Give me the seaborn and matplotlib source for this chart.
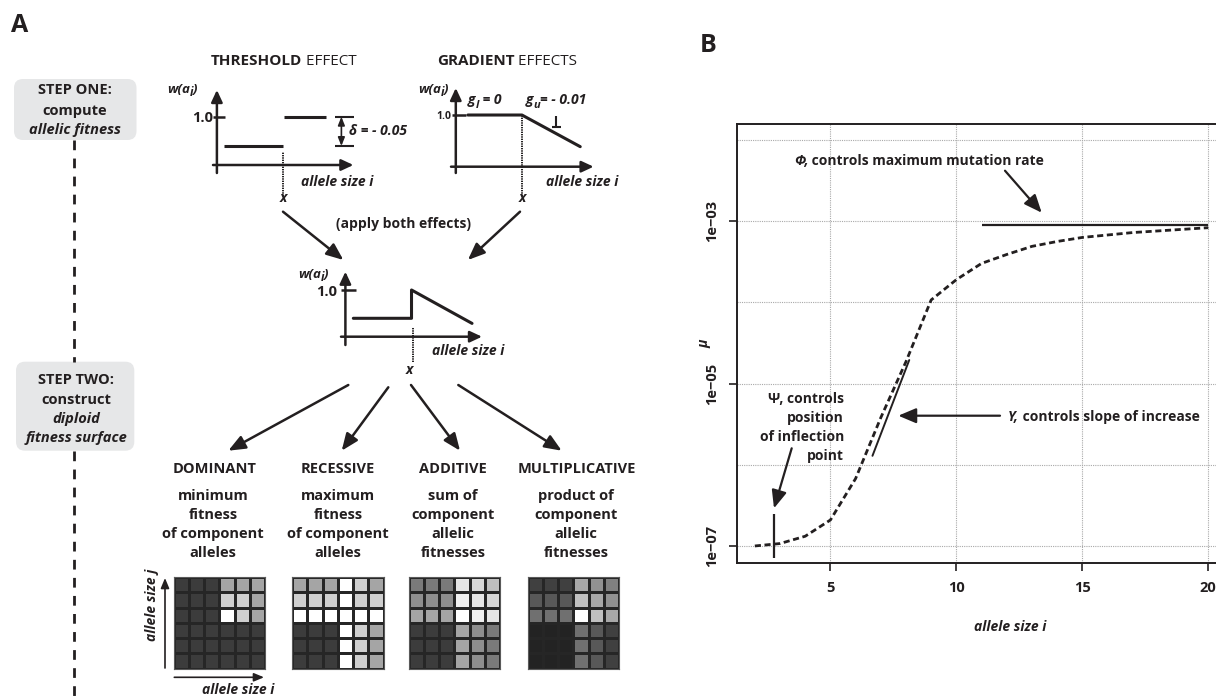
import numpy as np
import matplotlib
matplotlib.use("Agg")
import matplotlib.pyplot as plt
from matplotlib.patches import FancyBboxPatch
from matplotlib.ticker import FixedLocator, NullFormatter
import seaborn as sns

# ---------------- data ----------------
# Panel B: mutation rate as a function of allele size
allele_size = [2, 3, 4, 5, 6, 7, 8, 9, 10, 11, 12, 13, 14, 15, 16, 17, 18, 19, 20]
log10_mu = [-7.00, -6.97, -6.88, -6.68, -6.17, -5.42, -4.73, -3.97, -3.72, -3.52,
            -3.41, -3.31, -3.25, -3.20, -3.17, -3.14, -3.12, -3.10, -3.08]
phi_level = 9.0e-4          # maximum mutation rate
phi_span = [11, 20]
slope_i = [6.67, 8.13]      # slope guide
slope_mu = [1.29e-6, 1.95e-5]
psi_i = 2.77                # inflection position marker
psi_mu = [7.1e-8, 2.5e-7]
x_ticks = [5, 10, 15, 20]
y_ticks = [1e-7, 1e-5, 1e-3]
y_tick_labels = ["1e\u221207", "1e\u221205", "1e\u221203"]
y_minor_grid = [1e-6, 1e-4, 1e-2]

# Panel A: schematic allelic fitness curves
thr_low_i, thr_low_w = [0.5, 4.85], 0.95
thr_high_i, thr_high_w = [4.95, 8.0], 1.0
thr_x = 4.85
delta_i = 9.12
grad_i = [0.88, 4.8, 9.03]
grad_w = [1.0, 1.0, 0.946]
grad_x = 4.8
comb_i = [0.58, 4.84, 4.84, 9.27]
comb_w = [0.95, 0.95, 1.0, 0.941]
comb_x = 4.94

# Diploid fitness surfaces (grey level of each genotype cell, rows from top)
dominant_shades = [
    [60, 60, 60, 165, 165, 165],
    [60, 60, 60, 207, 207, 165],
    [60, 60, 60, 255, 207, 165],
    [60, 60, 60, 60, 60, 60],
    [60, 60, 60, 60, 60, 60],
    [60, 60, 60, 60, 60, 60],
]
recessive_shades = [
    [165, 165, 165, 255, 207, 165],
    [207, 207, 207, 255, 207, 207],
    [255, 255, 255, 255, 255, 255],
    [60, 60, 60, 255, 207, 165],
    [60, 60, 60, 255, 207, 165],
    [60, 60, 60, 255, 207, 165],
]
additive_shades = [
    [122, 122, 122, 230, 215, 190],
    [142, 142, 142, 240, 230, 215],
    [165, 165, 165, 255, 240, 230],
    [60, 60, 60, 165, 142, 122],
    [60, 60, 60, 165, 142, 122],
    [60, 60, 60, 165, 142, 122],
]
multiplicative_shades = [
    [64, 64, 64, 168, 145, 128],
    [88, 88, 88, 192, 168, 145],
    [112, 112, 112, 255, 192, 168],
    [35, 35, 35, 112, 88, 64],
    [35, 35, 35, 112, 88, 64],
    [35, 35, 35, 112, 88, 64],
]
modes = ["DOMINANT", "RECESSIVE", "ADDITIVE", "MULTIPLICATIVE"]
mode_notes = [
    ["minimum", "fitness", "of component", "alleles"],
    ["maximum", "fitness", "of component", "alleles"],
    ["sum of", "component", "allelic", "fitnesses"],
    ["product of", "component", "allelic", "fitnesses"],
]

# ---------------- style ----------------
sns.set_style("white")
plt.rcParams["font.family"] = ["Open Sans", "DejaVu Sans"]
INK = "#231f20"

W, H = 1216, 696
fig = plt.figure(figsize=(W / 100, H / 100), dpi=100)
renderer = fig.canvas.get_renderer()

ov = fig.add_axes([0, 0, 1, 1])
ov.set_xlim(0, W)
ov.set_ylim(H, 0)
ov.axis("off")
ov.set_zorder(10)


def px_axes(x0, y0, x1, y1):
    return fig.add_axes([x0 / W, 1 - y1 / H, (x1 - x0) / W, (y1 - y0) / H])


def rich_text(x, y, parts, ha="center", size=10):
    """Place a run of differently styled text pieces on one baseline."""
    placed = []
    cursor = 0.0
    for s, kw in parts:
        t = ov.text(0, y + kw.get("dy", 0), s, fontsize=kw.get("size", size),
                    fontweight=kw.get("weight", "bold"),
                    fontstyle=kw.get("style", "normal"),
                    ha="left", va="baseline", color=INK)
        placed.append((t, cursor))
        cursor += t.get_window_extent(renderer=renderer).width
    start = {"center": x - cursor / 2, "right": x - cursor, "left": x}[ha]
    for t, off in placed:
        t.set_x(start + off)


def label(x, y, s, ha="center", size=10, weight="bold", style="normal", **kw):
    ov.text(x, y, s, ha=ha, va="baseline", fontsize=size, fontweight=weight,
            fontstyle=style, color=INK, **kw)


def arrow(x0, y0, x1, y1, lw=1.8, hl=0.85, hw=0.35, ms=12):
    ov.annotate("", xy=(x1, y1), xytext=(x0, y0),
                arrowprops=dict(arrowstyle=f"-|>,head_length={hl},head_width={hw}",
                                mutation_scale=ms, lw=lw, color=INK, fc=INK,
                                shrinkA=0, shrinkB=0),
                annotation_clip=False)


def seg(x0, y0, x1, y1, lw=1.8, **kw):
    ov.plot([x0, x1], [y0, y1], color=INK, lw=lw, solid_capstyle="butt", **kw)


BI = dict(style="italic")
DOTS = (0, (0.7, 0.5))

# ---------------- panel A ----------------
ov.text(11, 25, "A", fontsize=18, fontweight="bold", ha="left", va="center", color=INK)
ov.text(700, 46, "B", fontsize=18, fontweight="bold", ha="left", va="center", color=INK)

rich_text(283.5, 65, [("THRESHOLD", {}), (" EFFECT", dict(weight="normal"))], size=11)
rich_text(507, 65, [("GRADIENT", {}), (" EFFECTS", dict(weight="normal"))], size=11)

# step boxes and connecting dashed guide
for (x0, y0, x1, y1) in [(14, 79, 136.5, 140), (16, 361.7, 134.3, 450.7)]:
    ov.add_patch(FancyBboxPatch((x0, y0), x1 - x0, y1 - y0,
                                boxstyle="round,pad=0,rounding_size=9",
                                fc="#e6e7e8", ec="none"))
seg(74, 140, 74, 361.7, lw=2, ls=(0, (3.5, 3)))
seg(74, 450.7, 74, 696, lw=2, ls=(0, (3.5, 3)))

label(75, 94.3, "STEP ONE:", size=10.5)
label(75, 115, "compute", size=10.5)
label(75, 134.3, "allelic fitness", style="italic", size=10.5)
label(76, 384, "STEP TWO:", size=10.5)
label(76, 404, "construct", size=10.5)
label(76, 422.7, "diploid", style="italic", size=10.5)
label(76, 442.3, "fitness surface", style="italic", size=10.5)


def mini(box, ylim):
    a = px_axes(*box)
    a.set_xlim(0, 10)
    a.set_ylim(*ylim)
    a.axis("off")
    return a


def w_label(x_left, base):
    rich_text(x_left, base, [("w(a", dict(style="italic", size=9.5)),
                             ("i", dict(style="italic", size=8.5, dy=3)),
                             (")", dict(style="italic", size=9.5))], ha="left")


# threshold effect
at = mini((216.9, 90, 353.4, 165), (0.9176, 1.0456))
at.hlines(thr_low_w, *thr_low_i, color=INK, lw=2.2)
at.hlines(thr_high_w, *thr_high_i, color=INK, lw=2.2)
at.vlines(thr_x, 0.865, 0.94, color=INK, lw=1.4, linestyles=DOTS, clip_on=False)
at.hlines(1.0, -0.3, 0.6, color=INK, lw=1.8, clip_on=False)
at.annotate("", xy=(delta_i, thr_high_w), xytext=(delta_i, thr_low_w),
            arrowprops=dict(arrowstyle="<|-|>,head_length=0.5,head_width=0.2",
                            mutation_scale=10, lw=1.2, color=INK, fc=INK,
                            shrinkA=0, shrinkB=0))
at.hlines([thr_low_w, thr_high_w], 8.66, 10.05, color=INK, lw=1.5, clip_on=False)
arrow(216.9, 173, 216.9, 90, hl=0.6, hw=0.28)
arrow(213, 165, 353.4, 165, hl=0.6, hw=0.28)
w_label(167, 93)
label(213, 121.7, "1.0", ha="right", size=10.5)
rich_text(349, 135, [("\u03b4 = - 0.05", BI)], ha="left")
label(301, 186, "allele size i", ha="left", style="italic")
label(283, 202, "x", style="italic")

# gradient effects
ag = mini((455.8, 88, 593.6, 166.7), (0.9118, 1.0461))
sns.lineplot(x=grad_i, y=grad_w, ax=ag, color=INK, lw=2.2, sort=False, estimator=None)
ag.vlines(grad_x, 0.862, 1.0, color=INK, lw=1.4, linestyles=DOTS, clip_on=False)
ag.hlines(1.0, -0.3, 0.75, color=INK, lw=1.8, clip_on=False)
arrow(455.8, 173, 455.8, 88, hl=0.6, hw=0.28)
arrow(451, 166.7, 593.6, 166.7, hl=0.6, hw=0.28)
w_label(418, 93)
label(451.8, 119, "1.0", ha="right", size=7.5)
rich_text(468, 104, [("g", BI), ("l", dict(style="italic", size=8, dy=4)),
                     (" = 0", BI)], ha="left")
rich_text(526, 104, [("g", BI), ("u", dict(style="italic", size=8, dy=4)),
                     ("= - 0.01", BI)], ha="left")
seg(556, 116, 556, 127, lw=1.5)
seg(551.5, 127, 560.5, 127, lw=1.5)
label(546, 186, "allele size i", ha="left", style="italic")
label(522, 202, "x", style="italic")

# combined effects
arrow(283, 211.7, 343.4, 260)
arrow(520, 211.7, 467.9, 260)
label(403.6, 228, "(apply both effects)")
ac = mini((345.4, 271.7, 482, 336.7), (0.9175, 1.0323))
sns.lineplot(x=comb_i, y=comb_w, ax=ac, color=INK, lw=2.2, sort=False, estimator=None)
ac.vlines(comb_x, 0.873, 0.935, color=INK, lw=1.4, linestyles=DOTS, clip_on=False)
ac.hlines(1.0, -0.3, 0.75, color=INK, lw=1.8, clip_on=False)
arrow(345.4, 345, 345.4, 271.7, hl=0.6, hw=0.28)
arrow(341, 336.7, 482, 336.7, hl=0.6, hw=0.28)
w_label(298, 278)
label(337, 296, "1.0", ha="right", size=10.5)
label(431.7, 355, "allele size i", ha="left", style="italic")
label(409, 374, "x", style="italic")

# arrows to the four dominance modes
arrow(348.3, 385, 228.3, 450.7)
arrow(388.3, 387.3, 341.7, 450.7)
arrow(411, 385, 460, 450.7)
arrow(458.3, 385, 561.7, 450.7)

head_x = [215, 338, 452.8, 577]
note_x = [213, 338, 453, 576]
grid_x = [173.5, 292, 408.5, 527.5]
shades = [dominant_shades, recessive_shades, additive_shades, multiplicative_shades]
for name, notes, hx, nx, gx, sh in zip(modes, mode_notes, head_x, note_x, grid_x, shades):
    label(hx, 473.3, name, size=10.5)
    for k, line in enumerate(notes):
        label(nx, 500 + 19 * k, line, size=10.5)
    a = px_axes(gx, 577, gx + 91.7, 668.7)
    sns.heatmap(np.array(sh), ax=a, cmap="gray", vmin=0, vmax=255, cbar=False,
                linewidths=0.9, linecolor="#262626",
                xticklabels=False, yticklabels=False)
    for s in a.spines.values():
        s.set_visible(True)
        s.set_color("#5a5a5a")
        s.set_linewidth(0.8)

arrow(165, 668, 165, 578, lw=1.2, hl=0.6, hw=0.25, ms=10)
arrow(174.3, 677.3, 264, 677.3, lw=1.2, hl=0.6, hw=0.25, ms=10)
ov.text(151.7, 605, "allele size j", rotation=90, ha="center", va="center",
        fontsize=10, fontweight="bold", fontstyle="italic", color=INK)
label(238.3, 694, "allele size i", style="italic")

# ---------------- panel B ----------------
axB = px_axes(736.7, 124, 1226.4, 562.7)
mu = [10 ** v for v in log10_mu]
sns.lineplot(x=allele_size, y=mu, ax=axB, color=INK, lw=2.0, estimator=None)
axB.lines[0].set_linestyle((0, (2.2, 1.3)))
axB.set_yscale("log")
axB.set_xlim(1.28, 20.72)
axB.set_ylim(10 ** -7.206, 10 ** -1.803)

axB.hlines(phi_level, *phi_span, color=INK, lw=1.6)
axB.plot(slope_i, slope_mu, color=INK, lw=1.4)
axB.vlines(psi_i, *psi_mu, color=INK, lw=1.6)

axB.set_xticks(x_ticks)
axB.set_xticklabels([str(v) for v in x_ticks])
axB.set_yticks(y_ticks)
axB.set_yticklabels(y_tick_labels, rotation=90, va="center")
axB.yaxis.set_minor_locator(FixedLocator(y_minor_grid))
axB.yaxis.set_minor_formatter(NullFormatter())
axB.tick_params(which="major", direction="out", length=6, width=1.2, pad=7,
                labelsize=10.5, colors=INK, left=True, bottom=True)
axB.tick_params(which="minor", length=0, left=False)
for t in axB.get_xticklabels() + axB.get_yticklabels():
    t.set_fontweight("bold")
grid_kw = dict(color="#a9a9a9", lw=0.8, ls=(0, (1, 1)))
axB.grid(True, which="both", axis="y", **grid_kw)
axB.grid(True, which="major", axis="x", **grid_kw)
for s in axB.spines.values():
    s.set_color(INK)
    s.set_linewidth(1.4)

axB.set_xlabel("allele size i", fontsize=10, fontweight="bold", fontstyle="italic", color=INK)
axB.xaxis.set_label_coords((1010 - 736.7) / 489.7, -0.131)
axB.set_ylabel("\u03bc", fontsize=10, fontweight="bold", fontstyle="italic", color=INK)
axB.yaxis.set_label_coords(-0.052, 0.5)

rich_text(919, 165, [("\u03a6,", BI), (" controls maximum mutation rate", {})])
arrow(1005, 170.7, 1041.7, 212.7, lw=1.6, hl=0.9, hw=0.38)
rich_text(1008, 420.7, [("\u03a5,", BI), (" controls slope of increase", {})], ha="left")
arrow(1000, 415.7, 898.3, 415.7, lw=1.6, hl=0.9, hw=0.38)
for k, line in enumerate(["\u03a8, controls", "position", "of inflection", "point"]):
    label(844, 402.7 + 19.1 * k, line, ha="right")
arrow(791.7, 448.3, 774, 508.3, lw=1.6, hl=0.9, hw=0.38)

fig.savefig("out.png", dpi=100)
